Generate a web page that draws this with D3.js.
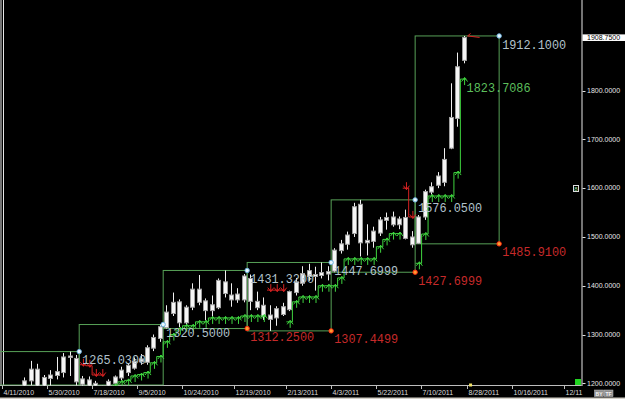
<!DOCTYPE html>
<html><head><meta charset="utf-8">
<script src="https://cdn.jsdelivr.net/npm/d3@7"></script>
<style>html,body{margin:0;padding:0;background:#000;overflow:hidden}</style>
</head><body>
<svg id="c" width="625" height="399"></svg>
<script>
// ---------- DATA ----------
const dates = ["2010-04-11","2010-04-18","2010-04-25","2010-05-02","2010-05-09","2010-05-16","2010-05-23","2010-05-30","2010-06-06","2010-06-13","2010-06-20","2010-06-27","2010-07-04","2010-07-11","2010-07-18","2010-07-25","2010-08-01","2010-08-08","2010-08-15","2010-08-22","2010-08-29","2010-09-05","2010-09-12","2010-09-19","2010-09-26","2010-10-03","2010-10-10","2010-10-17","2010-10-24","2010-10-31","2010-11-07","2010-11-14","2010-11-21","2010-11-28","2010-12-05","2010-12-12","2010-12-19","2010-12-26","2011-01-02","2011-01-09","2011-01-16","2011-01-23","2011-01-30","2011-02-06","2011-02-13","2011-02-20","2011-02-27","2011-03-06","2011-03-13","2011-03-20","2011-03-27","2011-04-03","2011-04-10","2011-04-17","2011-04-24","2011-05-01","2011-05-08","2011-05-15","2011-05-22","2011-05-29","2011-06-05","2011-06-12","2011-06-19","2011-06-26","2011-07-03","2011-07-10","2011-07-17","2011-07-24","2011-07-31","2011-08-07","2011-08-14","2011-08-21"];
const open  = [1160,1152,1156,1180,1205,1229,1180,1210,1216,1222,1256,1251,1198,1207,1200,1188,1182,1200,1211,1222,1231,1244,1243,1272,1292,1314,1343,1367,1324,1356,1393,1369,1349,1355,1408,1381,1371,1371,1415,1368,1360,1340,1334,1341,1351,1386,1405,1431,1419,1421,1429,1430,1472,1485,1507,1567,1488,1491,1508,1534,1541,1525,1540,1500,1487,1541,1592,1606,1612,1682,1743,1862];
const high  = [1170,1162,1185,1212,1246,1240,1217,1227,1254,1262,1265.03,1258,1215,1214,1205,1195,1208,1216,1234,1241,1253,1260,1278,1300,1320.5,1360,1386,1372,1360,1405,1422,1374,1380,1415,1431.32,1405,1395,1424,1423,1388,1376,1360,1358,1365,1390,1416,1440,1445,1439,1447.6999,1440,1477,1494,1511,1570,1576.05,1526,1521,1541,1550,1552,1542,1556,1512,1545,1597,1612,1633,1682,1815,1878,1912.1];
const low   = [1145,1135,1150,1166,1196,1165,1175,1195,1208,1212,1215,1195,1188,1185,1176,1157,1176,1193,1206,1215,1228,1238,1238,1266,1285,1312.25,1338,1315,1318,1350,1360,1329,1336,1352,1376,1357,1365,1366,1350,1350,1330,1307.4499,1318,1338,1348,1380,1400,1410,1390,1415,1411,1427.6999,1466,1474,1500,1460,1462,1478,1502,1515,1521,1516,1495,1478,1485.91,1535,1587,1600,1604,1680,1726,1856];
const close = [1152,1156,1180,1205,1229,1177,1212,1217,1224,1254,1253,1203,1209,1191,1188,1181,1204,1213,1227,1237,1245,1250,1273,1294,1316,1346,1366,1324,1356,1393,1366,1349,1361,1411,1384,1371,1383,1420,1368,1355,1337,1331,1353,1357,1388,1408,1425,1419,1423,1427,1424,1473,1486,1504,1562,1488,1493,1512,1535,1540,1525,1537,1497,1484,1541,1593,1603,1625,1659,1745,1849,1908.75];
// trailing stop below price (green) and above price (red); null = inactive
const stopUp = [null,null,null,null,null,null,null,null,null,null,null,null,null,null,null,null,null,1196,1203,1206,1215,1218,1222,1242,1255,1285,1300,1312,1318,1318,1326,1326,1334,1334,1334,1334,1334,1338,1338,1338,1338,null,null,null,1326,1367,1377,1377,1377,1400,1400,1400,1416,1455,1455,1455,1455,1455,1480,1495,1507,1507,null,null,1446,1506,1584,1584,1584,1584,1632,1823.7086];
const stopDown = [null,null,null,null,null,null,null,null,null,null,null,null,1238,1236,1217,1217,null,null,null,null,null,null,null,null,null,null,null,null,null,null,null,null,null,null,null,null,null,null,null,null,null,1391,1391,1391,null,null,null,null,null,null,null,null,null,null,null,null,null,null,null,null,null,null,1600,1541,null,null,null,null,null,null,null,null];
// quarterly high/low boxes
const boxFrom = ["2010-03-28","2010-07-04","2010-10-03","2011-01-02","2011-04-03","2011-07-03"];
const boxTo   = ["2010-06-27","2010-09-26","2010-12-26","2011-03-27","2011-06-26","2011-09-25"];
const boxHigh = [1265.03,1320.5,1431.32,1447.6999,1576.05,1912.1];
const boxLow  = [1123.5,1157.3,1312.25,1307.4499,1427.6999,1485.91];
const xTickDates = ["2010-04-11","2010-05-30","2010-07-18","2010-09-05","2010-10-24","2010-12-19","2011-02-13","2011-04-03","2011-05-22","2011-07-10","2011-08-28","2011-10-16","2011-12-11"];
const yTicks = [1200,1300,1400,1500,1600,1700,1800];
const lastPrice = 1908.75;
const nextBarDate = "2011-08-28";

// ---------- SCALES ----------
const svg = d3.select('#c');
const parse = d3.utcParse('%Y-%m-%d');
const plotR = 581.5, plotB = 385;
const x = d3.scaleUtc().domain([parse(dates[0]), parse(dates[dates.length-1])]).range([4.9, 463.6]);
const y = d3.scaleLinear().domain([1200, 1900]).range([383.3, 41.85]);
const half = (x(parse(dates[1])) - x(parse(dates[0]))) / 2;
const bars = dates.map((d,i)=>({t:parse(d),o:open[i],h:high[i],l:low[i],c:close[i]}));
const sans = 'Liberation Sans, Arial, sans-serif';

svg.append('rect').attr('width',625).attr('height',399).attr('fill','#000');
const defs = svg.append('defs');
defs.append('clipPath').attr('id','clip')
  .append('rect').attr('x',0).attr('y',0).attr('width',plotR).attr('height',plotB+0.5);

// bottom scrollbar strip
svg.append('rect').attr('x',0).attr('y',397.5).attr('width',625).attr('height',2).attr('fill','#d4d0c8');

// left border lines
[1,3.5].forEach(v=>svg.append('line').attr('x1',v).attr('x2',v).attr('y1',0).attr('y2',plotB)
  .attr('stroke','#e6e6e6').attr('stroke-width',1));

// x axis
svg.append('line').attr('x1',0).attr('x2',plotR).attr('y1',plotB+0.5).attr('y2',plotB+0.5).attr('stroke','#bdbdbd');
const fmtDate = d3.utcFormat('%-m/%-d/%Y');
xTickDates.forEach(ds=>{
  const t = parse(ds), px = Math.round(x(t) - 3.4) + 0.5;
  svg.append('line').attr('x1',px).attr('x2',px).attr('y1',plotB+1).attr('y2',plotB+4).attr('stroke','#bdbdbd');
  const tx = svg.append('text').attr('x',px+1).attr('y',394.5).attr('fill','#dcdcdc')
    .attr('font-family',sans).attr('font-size',7).text(fmtDate(t));
  // truncate labels that run into the price axis (as the reference does)
  let s = fmtDate(t);
  while (s.length > 1 && px + 1 + tx.node().getComputedTextLength() > plotR + 1.5) {
    s = s.slice(0, -1); tx.text(s);
  }
});
// next bar marker
svg.append('rect').attr('x',x(parse(nextBarDate))-1).attr('y',plotB-1.5).attr('width',3).attr('height',3).attr('fill','#f2e36a');

// y axis
svg.append('line').attr('x1',plotR+0.5).attr('x2',plotR+0.5).attr('y1',0).attr('y2',plotB+1).attr('stroke','#e8e8e8');
yTicks.forEach(v=>{
  const py = Math.round(y(v))+0.5;
  svg.append('line').attr('x1',plotR+1).attr('x2',plotR+4).attr('y1',py).attr('y2',py).attr('stroke','#e0e0e0');
  svg.append('text').attr('x',587).attr('y',y(v)+2.2).attr('fill','#e6e6e6')
    .attr('font-family',sans).attr('font-size',7).text(v.toFixed(4));
});
// last price box
svg.append('rect').attr('x',plotR+1).attr('y',y(lastPrice)-3.2).attr('width',625-plotR-1).attr('height',6.6).attr('fill','#ffffff');
svg.append('text').attr('x',587).attr('y',y(lastPrice)+2.5).attr('fill','#000')
  .attr('font-family',sans).attr('font-size',7).text(lastPrice.toFixed(4));
// small axis marker
svg.append('rect').attr('x',573.5).attr('y',185.5).attr('width',5).attr('height',6).attr('fill','#000').attr('stroke','#dddddd');
svg.append('text').attr('x',576).attr('y',190.5).attr('text-anchor','middle').attr('fill','#9fe09f')
  .attr('font-family',sans).attr('font-size',6).text('8');
// green square bottom right
svg.append('rect').attr('x',575).attr('y',379).attr('width',6).attr('height',6).attr('fill','#22d422');
// BY / TF buttons
[['BY',594.5],['TF',604]].forEach(([s,bx])=>{
  svg.append('rect').attr('x',bx).attr('y',390).attr('width',9).attr('height',6.5).attr('fill','#8e8e8e').attr('stroke','#c8c8c8').attr('stroke-width',0.5);
  svg.append('text').attr('x',bx+4.5).attr('y',395.6).attr('text-anchor','middle').attr('fill','#f4f4f4')
    .attr('font-family',sans).attr('font-weight','bold').attr('font-size',5).text(s);
});

// ---------- PLOT ----------
const g = svg.append('g').attr('clip-path','url(#clip)');
const boxes = boxFrom.map((f,i)=>({
  x0: x(parse(f)) - half, x1: x(parse(boxTo[i])) + half, hi: boxHigh[i], lo: boxLow[i]}));

// boxes
boxes.forEach(b=>{
  const yt = y(b.hi), yb = Math.min(y(b.lo), plotB);
  g.append('rect').attr('x',b.x0).attr('y',yt).attr('width',b.x1-b.x0).attr('height',yb-yt)
    .attr('fill','none').attr('stroke','#57a057').attr('stroke-width',1);
});

// candles
g.selectAll('line.wick').data(bars).join('line').attr('class','wick')
  .attr('x1',d=>Math.round(x(d.t))+0.5).attr('x2',d=>Math.round(x(d.t))+0.5)
  .attr('y1',d=>y(d.h)).attr('y2',d=>y(d.l)).attr('stroke','#f0f0f0').attr('stroke-width',1);
g.selectAll('rect.body').data(bars).join('rect').attr('class','body')
  .attr('x',d=>Math.round(x(d.t))-1.5).attr('width',4)
  .attr('y',d=>y(Math.max(d.o,d.c)))
  .attr('height',d=>Math.max(1,Math.abs(y(d.o)-y(d.c))))
  .attr('fill','#f6f6f6').attr('stroke','#a0a0a0').attr('stroke-width',1);

// trailing stops
function segs(arr){
  const out=[]; let cur=null;
  arr.forEach((v,i)=>{ if(v==null){cur=null;} else { if(!cur){cur=[];out.push(cur);} cur.push({px:x(bars[i].t),v}); } });
  return out;
}
const stepLine = d3.line().x(d=>d.px).y(d=>y(d.v)).curve(d3.curveStep);
function drawStops(arr, color, up){
  segs(arr).forEach(s=>{
    const pts = [{px:s[0].px-half+0.5,v:s[0].v}, ...s, {px:s[s.length-1].px+half-0.5,v:s[s.length-1].v}];
    g.append('path').attr('d',stepLine(pts)).attr('fill','none').attr('stroke',color).attr('stroke-width',1);
    s.forEach(p=>{
      const ax = p.px+1, ay = y(p.v);
      const d = up
        ? `M${ax-3},${ay+2.5}L${ax},${ay-1.5}L${ax+3},${ay+2.5}M${ax},${ay-1.5}L${ax},${ay+6}`
        : `M${ax-3},${ay-2.5}L${ax},${ay+1.5}L${ax+3},${ay-2.5}M${ax},${ay+1.5}L${ax},${ay-6}`;
      g.append('path').attr('d',d).attr('fill','none').attr('stroke',color).attr('stroke-width',1);
    });
  });
}
drawStops(stopUp,'#3fd43f',true);
drawStops(stopDown,'#d82222',false);

// high marker arrow on last bar
{
  const lb = bars[bars.length-1], px = x(lb.t), py = y(lb.h);
  g.append('path').attr('d',`M${px+4},${py}L${px+16},${py+1.5}M${px+4},${py}L${px+7},${py-2.5}`)
    .attr('fill','none').attr('stroke','#d82222').attr('stroke-width',1);
}

// labels
const monoFont = 'Liberation Mono, DejaVu Sans Mono, monospace';
function label(px, v, color){
  g.append('text').attr('x',px).attr('y',y(v)+12.6).attr('fill',color)
    .attr('font-family',monoFont).attr('font-size',13.5)
    .attr('textLength',64).attr('lengthAdjust','spacingAndGlyphs').text(v.toFixed(4));
}
boxes.forEach(b=>{
  label(b.x1+3, b.hi, '#b2c2cc');
  if (y(b.lo) < plotB) label(b.x1+3, b.lo, '#c62a2a');
});
{
  const i = stopUp.length-1;
  label(x(bars[i].t)+3, stopUp[i], '#5cbf5c');
}
// corner dots
boxes.forEach(b=>{
  g.append('circle').attr('cx',b.x1).attr('cy',y(b.hi)).attr('r',2.2).attr('fill','#e8f6ff').attr('stroke','#6fb4e0').attr('stroke-width',1);
  if (y(b.lo) < plotB)
    g.append('circle').attr('cx',b.x1).attr('cy',y(b.lo)).attr('r',2.2).attr('fill','#ff9a30').attr('stroke','#ff2a10').attr('stroke-width',1);
});
</script>
</body></html>
